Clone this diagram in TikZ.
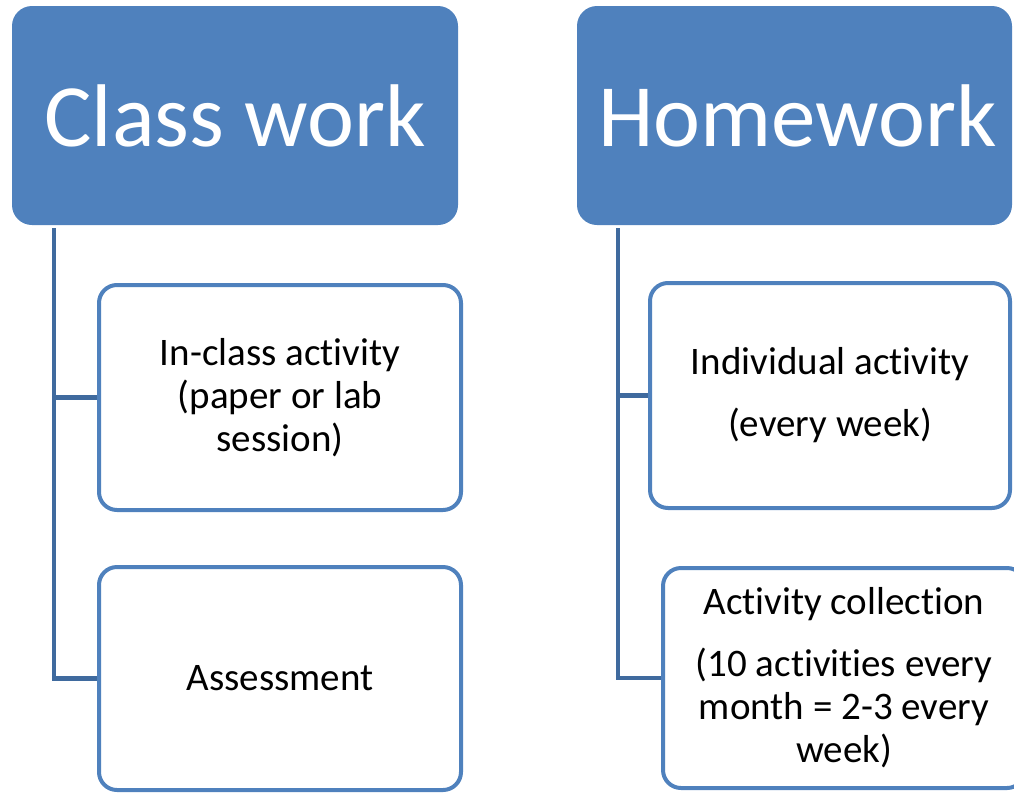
\documentclass[tikz,border=0pt]{standalone}
\usepackage{fontspec}
\setmainfont{Carlito}[RawFeature={-liga;-clig;-dlig}]
\definecolor{acc}{HTML}{4F81BD}
\definecolor{conn}{HTML}{3F6A9E}
\begin{document}
\begin{tikzpicture}[x=1pt,y=-1pt,
  header/.style={rounded corners=20pt, fill=acc, draw=none, text=white,
    font=\fontsize{89}{100}\selectfont, inner sep=0pt},
  child/.style={rounded corners=18pt, draw=acc, line width=4pt, fill=white,
    align=center, font=\fontsize{39}{43}\selectfont, inner sep=0pt},
  link/.style={draw=conn, line width=4.2pt}]
\useasboundingbox (0,0) rectangle (1014,793);
\clip (0,0) rectangle (1014,793);
% headers
\node[header, minimum width=446pt, minimum height=219pt] (cw) at (235,115.5) {Class work};
\node[header, minimum width=435pt, minimum height=219pt] (hw) at (794.5,115.5) {\hspace*{6pt}Homework};
% children
\node[child, minimum width=362pt, minimum height=225pt] (a1) at (280,397.5)
  {In-class activity\\(paper or lab\\session)};
\node[child, minimum width=362pt, minimum height=223pt] (a2) at (280,678.5)
  {Assessment};
\node[child, minimum width=360pt, minimum height=225pt] (b1) at (830,395.5)
  {Individual activity\\[19pt](every week)};
\node[child, minimum width=362pt, minimum height=220pt] (b2) at (844,678)
  {Activity collection\\[19pt](10 activities every\\month = 2-3 every\\week)};
% stems
\coordinate (cs) at (54,228);
\coordinate (hs) at (618,228);
\draw[link] (cs) |- (a1.west);
\draw[link] (cs) |- (a2.west);
\draw[link] (hs) |- (b1.west);
\draw[link] (hs) |- (b2.west);
\end{tikzpicture}
\end{document}
